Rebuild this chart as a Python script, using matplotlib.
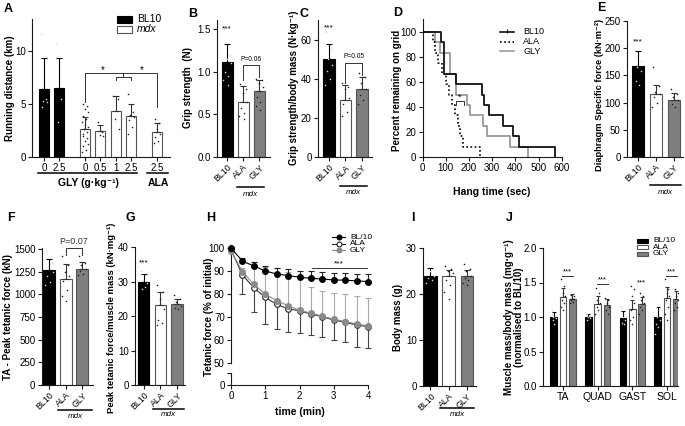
import numpy as np
import matplotlib
matplotlib.use('Agg')
import matplotlib.pyplot as plt
from matplotlib.lines import Line2D
from matplotlib.patches import Rectangle

plt.rcParams['font.family'] = ['Liberation Sans', 'DejaVu Sans']
plt.rcParams['font.size'] = 7

# ---------------- data ----------------
# A  running distance
a_labels = ['0', '2.5', '0', '0.5', '1', '2.5', '2.5']
a_groups = ['BL10', 'BL10', 'mdx', 'mdx', 'mdx', 'mdx', 'mdx']
a_mean = [6.4, 6.5, 2.65, 2.45, 4.35, 3.85, 2.33]
a_sd = [2.9, 2.8, 1.1, 0.55, 1.35, 1.15, 0.85]
a_pts = [[11.6, 5.5, 5.3, 5.2, 4.7], [10.7, 5.5, 3.3],
         [5.0, 4.8, 4.5, 4.2, 3.9, 3.6, 3.3, 3.0, 2.8, 2.6, 2.4, 2.2, 2.0, 1.8, 1.5, 1.2, 1.0, 0.7, 0.5],
         [3.3, 2.4, 2.1, 2.0], [5.7, 5.5, 3.6, 2.6], [5.9, 4.2, 4.0, 3.8, 3.5, 2.8, 2.2],
         [3.6, 3.2, 2.6, 2.2, 1.9, 1.5, 1.3]]

grp3 = ['BL10', 'ALA', 'GLY']
# B  grip strength
b_mean = [1.12, 0.65, 0.78]
b_sd = [0.21, 0.18, 0.13]
b_pts = [[1.5, 1.2, 1.15, 1.1, 1.0, 0.95, 0.9, 0.85], [0.86, 0.8, 0.75, 0.65, 0.58, 0.52, 0.48, 0.45],
         [0.92, 0.9, 0.87, 0.82, 0.7, 0.65, 0.6, 0.55]]
# C  grip strength / body mass
c_mean = [50, 29.2, 34.7]
c_sd = [7.7, 7.7, 6.1]
c_pts = [[64, 55, 50, 47, 44, 40, 37], [38, 36, 35, 30, 27, 23, 21], [43, 41, 38, 35, 32, 29, 27]]
# D  hang time survival
d_bl_t = [0, 80, 92, 145, 255, 265, 288, 345, 391, 417, 571]
d_bl_s = [100, 91.7, 66.7, 58.3, 50, 41.7, 33.3, 25, 16.7, 8.3, 0]
d_ala_t = [0, 45, 55, 65, 85, 100, 112, 125, 140, 152, 162, 175, 247]
d_ala_s = [100, 91.7, 83.3, 75, 66.7, 58.3, 50, 41.7, 33.3, 25, 16.7, 8.3, 0]
d_gly_t = [0, 52, 75, 118, 145, 190, 204, 259, 279, 377, 456]
d_gly_s = [100, 91.7, 83.3, 66.7, 50, 41.7, 33.3, 25, 16.7, 8.3, 0]
# E  diaphragm specific force
e_mean = [168, 115, 104]
e_sd = [26, 18, 13]
e_pts = [[183, 176, 165, 158, 140, 132], [165, 130, 120, 115, 110, 100, 92], [125, 115, 110, 105, 98, 92]]
# F  TA peak tetanic force
f_mean = [1265, 1170, 1285]
f_sd = [130, 170, 75]
f_pts = [[1480, 1350, 1300, 1250, 1200, 1140, 1100], [1420, 1320, 1250, 1200, 1150, 1050, 980, 930],
         [1420, 1350, 1320, 1280, 1260, 1230, 1210]]
# G  peak tetanic force / muscle mass
g_mean = [30, 23.2, 23.5]
g_sd = [2.3, 3.8, 1.5]
g_pts = [[33, 32, 30.5, 29.5, 28, 28.5], [29, 27, 25, 22, 19, 18, 17.5], [26, 25, 24, 23, 22.5, 22]]
# H  fatigue
h_time = [0, 1/3, 2/3, 1, 4/3, 5/3, 2, 7/3, 8/3, 3, 10/3, 11/3, 4]
h_bl = [100, 94.3, 92.2, 90.0, 88.7, 88.0, 87.3, 86.8, 86.5, 86.1, 86.0, 85.7, 85.4]
h_bl_sd = [0, 1.5, 1.8, 2.3, 2.7, 2.9, 2.8, 3.2, 3.1, 3.1, 3.2, 3.2, 3.2]
h_ala = [99.3, 88.3, 82.7, 78.5, 75.5, 73.5, 72.7, 71.3, 70.1, 68.7, 67.7, 66.5, 65.8]
h_ala_sd = [0, 8.3, 10.4, 11.5, 10.9, 10.2, 9.8, 9.1, 8.9, 8.6, 8.4, 9.4, 9.4]
h_gly = [98.8, 89.7, 84.2, 79.9, 77.1, 74.9, 73.0, 71.6, 70.4, 69.0, 68.0, 67.0, 66.1]
h_gly_sd = [0, 1.5, 9.5, 12.0, 14.0, 14.5, 14.0, 11.6, 10.9, 11.6, 11.9, 12.1, 12.0]
# I  body mass
i_mean = [24.0, 23.9, 24.0]
i_sd = [1.6, 1.4, 1.2]
i_pts = [[26.5, 25.5, 25, 24, 23.5, 23, 22.5], [26, 25.5, 25, 24.5, 23, 22, 20.5, 19],
         [26.5, 25.5, 25, 24, 23.5, 23, 22.5, 22]]
# J  muscle mass / body mass
j_muscles = ['TA', 'QUAD', 'GAST', 'SOL']
j_bl = [1.0, 1.0, 0.99, 1.0]
j_bl_sd = [0.07, 0.05, 0.1, 0.15]
j_ala = [1.29, 1.19, 1.11, 1.27]
j_ala_sd = [0.13, 0.12, 0.13, 0.17]
j_gly = [1.26, 1.17, 1.19, 1.26]
j_gly_sd = [0.07, 0.09, 0.1, 0.12]
j_bl_pts = [[1.05, 1.02, 1.0, 0.98, 0.95, 0.9, 1.1], [1.05, 1.02, 1.0, 0.98, 0.96],
            [1.15, 1.05, 1.0, 0.95, 0.92, 0.9], [1.15, 1.1, 1.0, 0.95, 0.9, 0.85, 0.75]]
j_ala_pts = [[1.55, 1.45, 1.35, 1.3, 1.25, 1.2, 1.15, 1.1], [1.42, 1.35, 1.25, 1.2, 1.15, 1.1, 1.05],
             [1.45, 1.4, 1.3, 1.2, 1.1, 1.0, 0.95, 0.9], [1.55, 1.4, 1.35, 1.3, 1.25, 1.15, 1.05, 0.95]]
j_gly_pts = [[1.32, 1.3, 1.28, 1.26, 1.24, 1.22, 1.2], [1.27, 1.25, 1.2, 1.15, 1.1, 1.05],
             [1.35, 1.3, 1.25, 1.2, 1.15, 1.1, 1.05], [1.4, 1.35, 1.3, 1.25, 1.2, 1.15, 1.1]]

# ---------------- layout helpers ----------------
W, H = 685, 426
fig = plt.figure(figsize=(W / 100, H / 100), dpi=100)
SP = '#1a1a1a'


def fx(x):
    return x / W


def fy(y):
    return 1 - y / H


def add_ax(l, t, r, b):
    ax = fig.add_axes([l / W, 1 - b / H, (r - l) / W, (b - t) / H])
    for s in ['top', 'right']:
        ax.spines[s].set_visible(False)
    for s in ['left', 'bottom']:
        ax.spines[s].set_linewidth(0.8)
        ax.spines[s].set_color(SP)
    ax.tick_params(direction='out', length=3, width=0.8, color=SP, labelsize=7, pad=1.5)
    ax.patch.set_alpha(0)
    return ax


FILL = {'BL10': 'black', 'ALA': 'white', 'GLY': '#7f7f7f', 'mdx': 'white'}
EDGE = {'BL10': 'black', 'ALA': '#555555', 'GLY': '#555555', 'mdx': '#555555'}
DOTC = {'BL10': '#d8d8d8', 'ALA': '#222222', 'GLY': '#1a1a1a', 'mdx': '#222222'}
ERRC = {'BL10': 'black', 'ALA': '#333333', 'GLY': '#333333', 'mdx': '#333333'}
JIT = np.array([-0.22, 0.18, -0.05, 0.25, -0.15, 0.08, -0.28, 0.02, 0.22, -0.1, 0.12, -0.2])


def draw_bar(ax, x, m, sd, grp, pts, width, cap=2):
    ax.bar(x, m, width, color=FILL[grp], edgecolor=EDGE[grp], linewidth=0.8, zorder=2)
    ax.errorbar([x], [m], yerr=[[0], [sd]], fmt='none', ecolor=ERRC[grp], elinewidth=0.8,
                capsize=cap, capthick=0.8, zorder=3)
    if pts:
        offs = np.resize(JIT, len(pts)) * width * 1.2
        ax.scatter(x + offs, pts, s=1.3, c=DOTC[grp], linewidths=0, zorder=4)


def three_bars(ax, means, sds, pts, width):
    for i in range(3):
        draw_bar(ax, i, means[i], sds[i], grp3[i], pts[i], width)
    ax.set_xticks(range(3))
    ax.set_xticklabels(grp3, rotation=45, ha='right', rotation_mode='anchor', fontsize=6.3)
    ax.tick_params(axis='x', pad=1)


def mdx_line(x1, x2, y, ty):
    fig.add_artist(Line2D([fx(x1), fx(x2)], [fy(y), fy(y)], color='black', lw=1.1))
    fig.text(fx((x1 + x2) / 2), fy(ty), 'mdx', style='italic', ha='center', va='center', fontsize=5.8)


def ylab(px, py, text, fs=7):
    fig.text(fx(px), fy(py), text, rotation=90, ha='center', va='center',
             fontweight='bold', fontsize=fs, multialignment='center', linespacing=1.1)


def letter(px, py, t):
    fig.text(fx(px), fy(py), t, fontweight='bold', fontsize=9, ha='left', va='center')


def bracket(ax, x1, x2, y, h1, h2):
    ax.plot([x1, x1, x2, x2], [h1, y, y, h2], color='#333333', lw=0.7, clip_on=False, zorder=5)


# ---------------- A ----------------
axA = add_ax(32, 19, 170, 157)
xA = [0, 1, 2.75, 3.75, 4.8, 5.8, 7.55]
for i in range(7):
    draw_bar(axA, xA[i], a_mean[i], a_sd[i], a_groups[i], a_pts[i], 0.65)
axA.set_xlim(-0.8, 8.4)
axA.set_ylim(0, 13)
axA.set_yticks([0, 5, 10])
axA.set_xticks(xA)
axA.set_xticklabels(a_labels, fontsize=7)
axA.plot([2.75, 2.75, 7.55, 7.55], [5.2, 7.9, 7.9, 4.7], color='#333333', lw=0.7)
axA.plot([4.8, 4.8, 5.8, 5.8], [7.25, 7.5, 7.5, 7.25], color='#333333', lw=0.7)
axA.plot([5.3, 5.3], [7.5, 7.9], color='#333333', lw=0.7)
axA.text(3.95, 7.75, '*', ha='center', va='bottom', fontsize=7)
axA.text(6.5, 7.75, '*', ha='center', va='bottom', fontsize=7)
fig.add_artist(Line2D([fx(38), fx(137)], [fy(173)] * 2, color='black', lw=1.1))
fig.add_artist(Line2D([fx(147), fx(168)], [fy(173)] * 2, color='black', lw=1.1))
fig.text(fx(88), fy(183), 'GLY (g·kg⁻¹)', ha='center', va='center', fontweight='bold', fontsize=7.5)
fig.text(fx(158), fy(183), 'ALA', ha='center', va='center', fontweight='bold', fontsize=7.5)
fig.add_artist(Rectangle((fx(117), fy(23)), 15 / W, 7 / H, facecolor='black', edgecolor='black', lw=0.8,
                         transform=fig.transFigure))
fig.add_artist(Rectangle((fx(117), fy(33)), 15 / W, 7 / H, facecolor='white', edgecolor='#555555', lw=0.8,
                         transform=fig.transFigure))
fig.text(fx(137), fy(19.5), 'BL10', ha='left', va='center', fontsize=7.5)
fig.text(fx(137), fy(29.5), 'mdx', ha='left', va='center', fontsize=7.5, style='italic')
ylab(10, 88, 'Running distance (km)')
letter(4, 9, 'A')

# ---------------- B ----------------
axB = add_ax(217, 20, 270, 157)
three_bars(axB, b_mean, b_sd, b_pts, 0.7)
axB.set_xlim(-0.64, 2.67)
axB.set_ylim(0, 1.61)
axB.set_yticks([0, 0.5, 1.0, 1.5])
axB.set_yticklabels(['0.0', '0.5', '1.0', '1.5'])
axB.text(0, 1.5, '***', ha='center', va='center', fontsize=6)
bracket(axB, 1, 2, 1.08, 0.9, 0.94)
axB.text(1.5, 1.1, 'P=0.06', ha='center', va='bottom', fontsize=4.8)
mdx_line(237, 264, 187, 194)
ylab(188, 88, 'Grip strength  (N)')
letter(188, 14, 'B')

# ---------------- C ----------------
axC = add_ax(318, 20, 372, 157.3)
three_bars(axC, c_mean, c_sd, c_pts, 0.7)
axC.set_xlim(-0.66, 2.6)
axC.set_ylim(0, 70)
axC.set_yticks([0, 20, 40, 60])
axC.text(0, 66, '***', ha='center', va='center', fontsize=6)
bracket(axC, 1, 2, 48.3, 38, 42)
axC.text(1.5, 49.5, 'P=0.05', ha='center', va='bottom', fontsize=4.8)
mdx_line(340, 367, 186, 193)
ylab(294, 88, 'Grip strength/body mass (N·kg⁻¹)')
letter(300, 14, 'C')

# ---------------- D ----------------
axD = add_ax(422.7, 19, 561.7, 157)
axD.step(d_gly_t, d_gly_s, where='post', color='#9a9a9a', lw=1.3, zorder=2)
axD.step(d_ala_t, d_ala_s, where='post', color='black', lw=1.2, ls=(0, (1, 1.5)), zorder=3)
axD.step(d_bl_t, d_bl_s, where='post', color='#111111', lw=1.3, zorder=4)
axD.set_xlim(0, 600)
axD.set_ylim(0, 110.4)
axD.set_xticks(range(0, 601, 100))
axD.set_yticks(range(0, 101, 20))
bracket(axD, 142, 180, 45, 42, 42)
axD.text(161, 44, '*', ha='center', va='bottom', fontsize=6.5)
fig.text(fx(492), fy(192), 'Hang time (sec)', ha='center', va='center', fontweight='bold', fontsize=7.5)
ylab(397, 90, 'Percent remaining on grid')
letter(393, 13, 'D')
for yy, col, ls, lab in [(32, '#111111', '-', 'BL10'), (42, 'black', (0, (1, 1.5)), 'ALA'),
                          (51, '#9a9a9a', '-', 'GLY')]:
    fig.add_artist(Line2D([fx(500), fx(514)], [fy(yy)] * 2, color=col, ls=ls, lw=1.2))
    fig.text(fx(523), fy(yy), lab, ha='left', va='center', fontsize=6.5)
fig.add_artist(Line2D([fx(507)], [fy(31)], marker='|', color='#111111', ms=3, mew=0.8))

# ---------------- E ----------------
axE = add_ax(627, 21, 683, 157)
three_bars(axE, e_mean, e_sd, e_pts, 0.65)
axE.set_xlim(-0.61, 2.5)
axE.set_ylim(0, 250)
axE.set_yticks(range(0, 251, 50))
axE.text(0, 212, '***', ha='center', va='center', fontsize=6)
mdx_line(650, 681, 185, 192)
ylab(599, 95, 'Diaphragm Specific force (kN·m⁻²)', fs=6.7)
letter(597, 8, 'E')

# ---------------- F ----------------
axF = add_ax(41.7, 248, 93, 385)
three_bars(axF, f_mean, f_sd, f_pts, 0.72)
axF.set_xlim(-0.44, 2.65)
axF.set_ylim(0, 1512)
axF.set_yticks(range(0, 1501, 250))
bracket(axF, 1, 2, 1512, 1440, 1440)
axF.text(1.5, 1535, 'P=0.07', ha='center', va='bottom', fontsize=6.5, color='#333333')
mdx_line(58, 92, 410, 416)
ylab(8, 317, 'TA - Peak tetanic force (kN)')
letter(7, 218, 'F')

# ---------------- G ----------------
axG = add_ax(135, 247.3, 185, 385)
three_bars(axG, g_mean, g_sd, g_pts, 0.68)
axG.set_xlim(-0.52, 2.47)
axG.set_ylim(0, 40)
axG.set_yticks(range(0, 41, 10))
axG.text(0, 35.5, '***', ha='center', va='center', fontsize=6)
mdx_line(153, 184, 409, 415)
ylab(112, 318, 'Peak tetanic force/muscle mass (kN·mg⁻¹)', fs=6.8)
letter(125, 218, 'G')

# ---------------- H ----------------
axH = add_ax(231, 245, 368, 363)
axH2 = add_ax(231, 373, 368, 385)
axH.spines['bottom'].set_visible(False)
axH.set_xticks([])
axH.set_xlim(0, 4)
axH.set_ylim(50, 101.3)
axH.set_yticks(range(50, 101, 10))
axH2.set_xlim(0, 4)
axH2.set_ylim(0, 5.2)
axH2.set_yticks([0, 5.2])
axH2.set_yticklabels(['0', ''])
axH2.set_xticks(range(0, 5))
zero = [0] * len(h_time)
axH.errorbar(h_time, h_ala, yerr=[h_ala_sd, zero], fmt='none', ecolor='#444444', elinewidth=0.8,
             capsize=2, capthick=0.8, zorder=2, clip_on=False)
axH.errorbar(h_time, h_gly, yerr=[zero, h_gly_sd], fmt='none', ecolor='#a8a8a8', elinewidth=0.8,
             capsize=2, capthick=0.8, zorder=2, clip_on=False)
axH.errorbar(h_time, h_bl, yerr=[zero, h_bl_sd], fmt='none', ecolor='#222222', elinewidth=0.8,
             capsize=2, capthick=0.8, zorder=3, clip_on=False)
axH.plot(h_time, h_ala, color='#333333', lw=0.8, marker='o', ms=4, mfc='white', mec='#222222', mew=0.8,
         zorder=4, clip_on=False)
axH.plot(h_time, h_gly, color='#8a8a8a', lw=0.8, marker='o', ms=4, mfc='#8a8a8a', mec='#8a8a8a',
         zorder=5, clip_on=False)
axH.plot(h_time, h_bl, color='black', lw=0.8, marker='o', ms=4, mfc='black', mec='black',
         zorder=6, clip_on=False)
axH.plot([2.37, 4.0], [91.4, 91.4], color='#333333', lw=0.7)
axH.text(3.15, 91.6, '***', ha='center', va='bottom', fontsize=6)
fig.text(fx(300), fy(412), 'time (min)', ha='center', va='center', fontweight='bold', fontsize=7.5)
ylab(209, 317, 'Tetanic force (% of initial)')
letter(206, 218, 'H')
for yy, fc, ec, lc, lab in [(237, 'black', 'black', 'black', 'BL/10'), (243.5, 'white', '#222222', '#333333', 'ALA'),
                            (250, '#8a8a8a', '#8a8a8a', '#8a8a8a', 'GLY')]:
    fig.add_artist(Line2D([fx(332), fx(345)], [fy(yy)] * 2, color=lc, lw=0.8))
    fig.add_artist(Line2D([fx(338.5)], [fy(yy)], marker='o', ms=3.5, mfc=fc, mec=ec, mew=0.8, color=lc))
    fig.text(fx(350), fy(yy), lab, ha='left', va='center', fontsize=6)

# ---------------- I ----------------
axI = add_ax(423, 248, 476, 386)
three_bars(axI, i_mean, i_sd, i_pts, 0.7)
axI.set_xlim(-0.41, 2.5)
axI.set_ylim(0, 30)
axI.set_yticks(range(0, 31, 10))
mdx_line(440, 474, 408, 414)
ylab(398, 317, 'Body mass (g)')
letter(411, 218, 'I')

# ---------------- J ----------------
axJ = add_ax(543, 248, 678, 386)
off = [-0.27, 0.0, 0.27]
for k in range(4):
    draw_bar(axJ, k + off[0], j_bl[k], j_bl_sd[k], 'BL10', j_bl_pts[k], 0.19, cap=1.5)
    draw_bar(axJ, k + off[1], j_ala[k], j_ala_sd[k], 'ALA', j_ala_pts[k], 0.19, cap=1.5)
    draw_bar(axJ, k + off[2], j_gly[k], j_gly_sd[k], 'GLY', j_gly_pts[k], 0.19, cap=1.5)
axJ.set_xlim(-0.58, 3.32)
axJ.set_ylim(0, 2)
axJ.set_yticks([0, 0.5, 1.0, 1.5, 2.0])
axJ.set_yticklabels(['0.0', '0.5', '1.0', '1.5', '2.0'])
axJ.set_xticks(range(4))
axJ.set_xticklabels(j_muscles, fontsize=7.5)
for k, yb in [(0, 1.6), (1, 1.48), (3, 1.6)]:
    axJ.plot([k - 0.03, k + 0.3], [yb, yb], color='#333333', lw=0.7)
    axJ.text(k + 0.135, yb + 0.01, '***', ha='center', va='bottom', fontsize=5.5)
axJ.text(2.27, 1.45, '***', ha='center', va='bottom', fontsize=5.5)
ylab(514, 317, 'Muscle mass/body mass (mg·g⁻¹)\n(normalised to BL/10)')
letter(506, 218, 'J')
for yy, grp, lab in [(241, 'BL10', 'BL/10'), (247.5, 'ALA', 'ALA'), (254, 'GLY', 'GLY')]:
    fig.add_artist(Rectangle((fx(637), fy(yy + 2)), 11 / W, 4 / H, facecolor=FILL[grp], edgecolor=EDGE[grp],
                             lw=0.8, transform=fig.transFigure))
    fig.text(fx(653), fy(yy), lab, ha='left', va='center', fontsize=6)

fig.savefig('out.png', dpi=100)
